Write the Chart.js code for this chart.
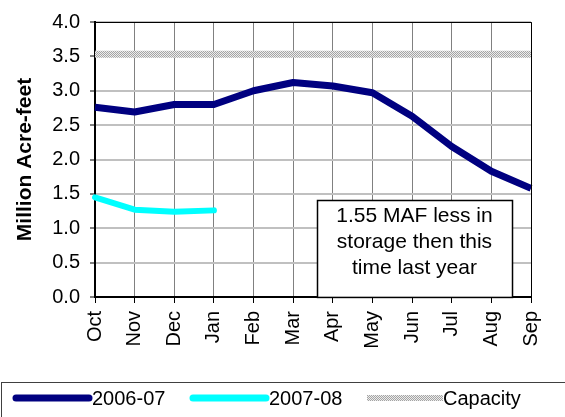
<!DOCTYPE html>
<html><head><meta charset="utf-8">
<script src="https://cdn.jsdelivr.net/npm/chart.js@4/dist/chart.umd.min.js"></script>
<style>html,body{margin:0;padding:0;background:#fff;}#wrap{width:565px;height:417px;position:relative;}</style>
</head><body><div id="wrap"><canvas id="c" width="565" height="417"></canvas></div>
<script>
const months = ['Oct','Nov','Dec','Jan','Feb','Mar','Apr','May','Jun','Jul','Aug','Sep'];
const series2006 = [2.76, 2.69, 2.80, 2.80, 3.00, 3.12, 3.07, 2.97, 2.63, 2.19, 1.83, 1.58];
const series2007 = [1.45, 1.27, 1.24, 1.26, null, null, null, null, null, null, null, null];
const capacity = [3.53, 3.53, 3.53, 3.53, 3.53, 3.53, 3.53, 3.53, 3.53, 3.53, 3.53, 3.53];
const yTicks = [0, 0.5, 1.0, 1.5, 2.0, 2.5, 3.0, 3.5, 4.0];
const noteLines = ['1.55 MAF less in', 'storage then this', 'time last year'];
const noteAnchor = {x0: 5.6, x1: 10.52, y0: 0, y1: 1.41};

const FONT = 'Arial, "Liberation Sans", sans-serif';

function makePattern() {
  const p = document.createElement('canvas');
  p.width = 2; p.height = 2;
  const g = p.getContext('2d');
  g.fillStyle = '#ececec'; g.fillRect(0,0,2,2);
  g.fillStyle = '#a4a4a4'; g.fillRect(0,0,1,1); g.fillRect(1,1,1,1);
  return g.createPattern(p, 'repeat');
}
const pat = makePattern();

const extras = {
  id: 'extras',
  afterDatasetsDraw(chart) {
    const ctx = chart.ctx, a = chart.chartArea;
    const xs = chart.scales.x, ys = chart.scales.y;
    ctx.save();
    // plot top/right border
    ctx.strokeStyle = '#000'; ctx.lineWidth = 1;
    ctx.beginPath();
    ctx.moveTo(a.left, a.top + 0.5); ctx.lineTo(a.right + 0.5, a.top + 0.5); ctx.lineTo(a.right + 0.5, a.bottom);
    ctx.stroke();
    // note box
    const l = xs.getPixelForValue(noteAnchor.x0), r = xs.getPixelForValue(noteAnchor.x1);
    const t = ys.getPixelForValue(noteAnchor.y1), b = ys.getPixelForValue(noteAnchor.y0);
    ctx.fillStyle = '#fff';
    ctx.fillRect(l, t, r - l, b - t);
    ctx.strokeStyle = '#000'; ctx.lineWidth = 1.5;
    ctx.strokeRect(Math.round(l) + 0.5, Math.round(t) + 0.5, r - l, b - t);
    ctx.fillStyle = '#000';
    ctx.font = '21px ' + FONT;
    ctx.textAlign = 'center'; ctx.textBaseline = 'middle';
    const cx = (l + r) / 2;
    noteLines.forEach((s, i) => ctx.fillText(s, cx, t + 16 + i * 26));
    ctx.restore();
  },
  afterDraw(chart) {
    const ctx = chart.ctx;
    ctx.save();
    // legend frame
    ctx.strokeStyle = '#404040'; ctx.lineWidth = 1;
    ctx.strokeRect(1.5, 382.5, 600, 100);
    const y = 398;
    const starts = [16, 193, 367];
    ctx.font = '20px ' + FONT;
    ctx.textBaseline = 'middle'; ctx.textAlign = 'left';
    chart.data.datasets.forEach((ds, i) => {
      const x0 = starts[i], x1 = x0 + 73;
      if (ds.legendPattern) {
        ctx.fillStyle = ds.borderColor;
        ctx.fillRect(x0, y - 3, x1 - x0 + 3, 6);
      } else {
        ctx.strokeStyle = ds.borderColor; ctx.lineWidth = 7; ctx.lineCap = 'round';
        ctx.beginPath(); ctx.moveTo(x0, y); ctx.lineTo(x1, y); ctx.stroke();
      }
      ctx.fillStyle = '#000';
      ctx.fillText(ds.label, x1 + 3, y + 1);
    });
    ctx.restore();
  }
};

new Chart(document.getElementById('c'), {
  type: 'line',
  data: {
    labels: months,
    datasets: [
      {label: '2006-07', data: series2006, borderColor: '#000080', backgroundColor: '#000080', borderWidth: 7, pointRadius: 0, tension: 0, borderJoinStyle: 'round'},
      {label: '2007-08', data: series2007, borderColor: '#00ffff', backgroundColor: '#00ffff', borderWidth: 6, pointRadius: 0, tension: 0, borderCapStyle: 'round', borderJoinStyle: 'round', spanGaps: false},
      {label: 'Capacity', data: capacity, borderColor: pat, backgroundColor: pat, borderWidth: 7, pointRadius: 0, tension: 0, legendPattern: true}
    ]
  },
  options: {
    responsive: false,
    animation: false,
    devicePixelRatio: 1,
    layout: {padding: {left: 0, right: 34, top: 16, bottom: 60}},
    plugins: {legend: {display: false}, tooltip: {enabled: false}},
    scales: {
      x: {
        offset: false,
        grid: {color: '#808080', lineWidth: 1, tickLength: 6, drawOnChartArea: true, tickColor: '#000'},
        border: {color: '#000', width: 2},
        ticks: {color: '#000', font: {family: FONT, size: 20}, maxRotation: 90, minRotation: 90, autoSkip: false, padding: 8},
        afterFit(s) { s.height = 60; }
      },
      y: {
        min: 0, max: 4,
        afterBuildTicks(s) { s.ticks = yTicks.map(v => ({value: v})); },
        grid: {color: '#c0c0c0', lineWidth: 2, tickLength: 5, tickColor: '#000', tickWidth: 1},
        border: {color: '#000', width: 2},
        ticks: {color: '#000', font: {family: FONT, size: 20}, padding: 10, callback: v => Number(v).toFixed(1)},
        title: {display: true, text: 'Million Acre-feet', color: '#000', font: {family: FONT, size: 21, weight: 'bold'}, padding: {top: 13, bottom: 0}},
        afterFit(s) { s.width = 95; }
      }
    }
  },
  plugins: [extras]
});
</script></body></html>
